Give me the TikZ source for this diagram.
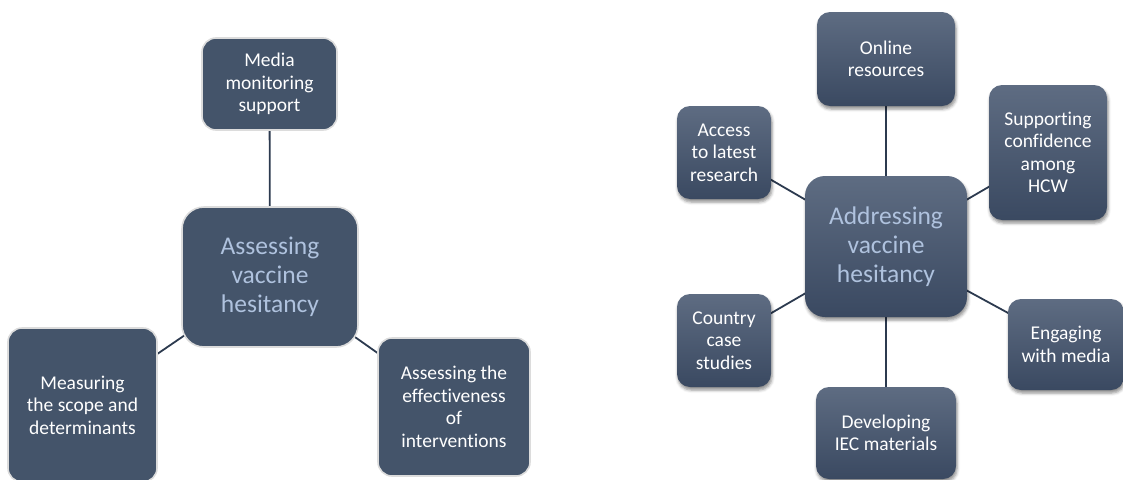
\documentclass[tikz,border=0pt]{standalone}
\usepackage{fontspec}
\setmainfont{Carlito}[Ligatures=NoCommon]
\usetikzlibrary{backgrounds,shadows.blur}

\definecolor{slate}{HTML}{44546A}
\definecolor{slatetop}{HTML}{5E6C82}
\definecolor{slatebot}{HTML}{3A4961}
\definecolor{rim}{HTML}{DCDCDC}
\definecolor{hubtext}{HTML}{AFC2DE}
\definecolor{link}{HTML}{2C3A4F}

\tikzset{
  flatbox/.style={draw=rim, line width=1.6pt, fill=slate, rounded corners=14pt,
    align=center, text=white, font=\fontsize{19.5}{22.5}\selectfont, inner sep=0pt},
  flathub/.style={flatbox, rounded corners=22pt, text=hubtext,
    font=\fontsize{25.5}{29}\selectfont},
  gradbox/.style={rounded corners=13pt, top color=slatetop, bottom color=slatebot,
    align=center, text=white, font=\fontsize{19.5}{22.5}\selectfont, inner sep=0pt,
    blur shadow={shadow xshift=1pt, shadow yshift=-3pt, shadow blur radius=3pt, shadow opacity=45}},
  gradhub/.style={gradbox, rounded corners=20pt, text=hubtext,
    font=\fontsize{25.5}{29}\selectfont},
  spoke/.style={draw=link, line width=1.8pt}
}

\begin{document}
\begin{tikzpicture}[x=1pt,y=-1pt]
\useasboundingbox (0,0) rectangle (1123,479);

% Assessing vaccine hesitancy
\node[flathub, minimum width=176pt, minimum height=140pt] (lhub) at (270,277)
  {Assessing\\vaccine\\hesitancy};
\node[flatbox, minimum width=135pt, minimum height=92pt] (media) at (269.5,84)
  {Media\\monitoring\\support};
\node[flatbox, minimum width=149pt, minimum height=154pt] (meas) at (82.5,405)
  {Measuring\\the scope and\\determinants};
\node[flatbox, minimum width=152pt, minimum height=138pt] (eff) at (454,407)
  {Assessing the\\effectiveness\\of\\interventions};

% Addressing vaccine hesitancy
\node[gradhub, minimum width=162pt, minimum height=141pt] (rhub) at (886,246.5)
  {Addressing\\vaccine\\hesitancy};
\node[gradbox, minimum width=138pt, minimum height=94pt] (online) at (886,59)
  {Online\\resources};
\node[gradbox, minimum width=94pt, minimum height=93pt] (access) at (724,152.5)
  {Access\\to latest\\research};
\node[gradbox, minimum width=118pt, minimum height=135pt] (hcw) at (1048,152.5)
  {Supporting\\confidence\\among\\HCW};
\node[gradbox, minimum width=94pt, minimum height=93pt] (country) at (724,340.5)
  {Country\\case\\studies};
\node[gradbox, minimum width=116pt, minimum height=91pt] (media2) at (1066,344.5)
  {Engaging\\with media};
\node[gradbox, minimum width=140pt, minimum height=92pt] (iec) at (886,433)
  {Developing\\IEC materials};

\begin{scope}[on background layer]
  \draw[spoke] (lhub.center) -- (media.center);
  \draw[spoke] (lhub.center) -- (meas.center);
  \draw[spoke] (lhub.center) -- (eff.center);
  \draw[spoke] (rhub.center) -- (online.center);
  \draw[spoke] (rhub.center) -- (access.center);
  \draw[spoke] (rhub.center) -- (hcw.center);
  \draw[spoke] (rhub.center) -- (country.center);
  \draw[spoke] (rhub.center) -- (media2.center);
  \draw[spoke] (rhub.center) -- (iec.center);
\end{scope}
\end{tikzpicture}
\end{document}
